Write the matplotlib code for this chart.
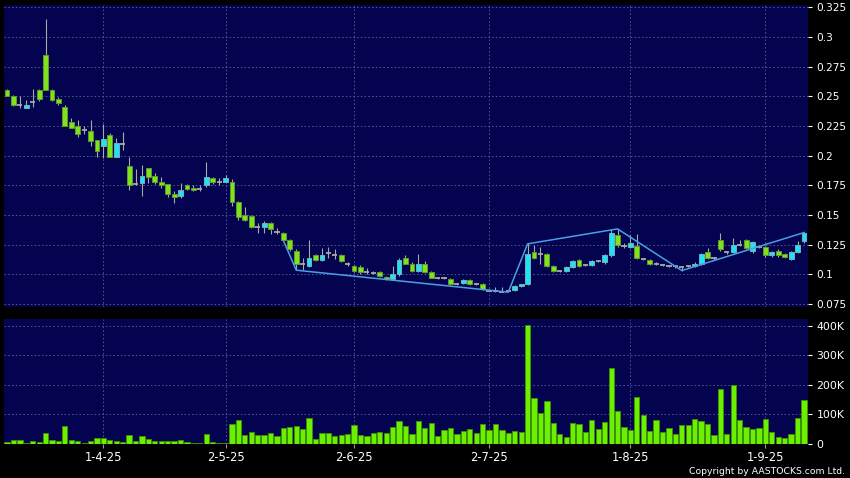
import numpy as np
import pandas as pd
import matplotlib
matplotlib.use('Agg')
import matplotlib.pyplot as plt

# trading days shown (HK calendar, Mar 11 - Sep 9 2025)
hk_holidays = ['2025-04-04', '2025-04-18', '2025-04-21', '2025-05-01',
               '2025-05-05', '2025-07-01']

opens = [0.255, 0.250, 0.243, 0.240, 0.245, 0.255, 0.285, 0.255, 0.248, 0.241,
         0.228, 0.225, 0.222, 0.221, 0.213, 0.208, 0.217, 0.199, 0.210, 0.191,
         0.176, 0.177, 0.190, 0.183, 0.178, 0.176, 0.168, 0.166, 0.175, 0.173,
         0.172, 0.175, 0.181, 0.178, 0.178, 0.178, 0.161, 0.150, 0.149, 0.140,
         0.140, 0.143, 0.136, 0.135, 0.129, 0.120, 0.109, 0.107, 0.116, 0.112,
         0.118, 0.116, 0.116, 0.109, 0.107, 0.106, 0.102, 0.101, 0.102, 0.098,
         0.096, 0.100, 0.114, 0.109, 0.103, 0.109, 0.102, 0.097, 0.097, 0.096,
         0.092, 0.093, 0.095, 0.092, 0.092, 0.086, 0.086, 0.085, 0.086, 0.087,
         0.090, 0.092, 0.119, 0.117, 0.117, 0.107, 0.103, 0.103, 0.106, 0.112,
         0.108, 0.108, 0.111, 0.110, 0.116, 0.133, 0.124, 0.123, 0.124, 0.113,
         0.112, 0.109, 0.108, 0.107, 0.107, 0.106, 0.107, 0.107, 0.109, 0.119,
         0.114, 0.129, 0.119, 0.119, 0.125, 0.129, 0.120, 0.123, 0.123, 0.116,
         0.120, 0.117, 0.113, 0.119, 0.128]
highs = [0.256, 0.251, 0.250, 0.247, 0.256, 0.256, 0.315, 0.256, 0.249, 0.243,
         0.232, 0.230, 0.225, 0.230, 0.213, 0.227, 0.219, 0.215, 0.220, 0.199,
         0.189, 0.192, 0.190, 0.185, 0.182, 0.176, 0.170, 0.177, 0.176, 0.175,
         0.175, 0.195, 0.182, 0.181, 0.184, 0.180, 0.162, 0.157, 0.150, 0.143,
         0.145, 0.144, 0.139, 0.136, 0.130, 0.121, 0.114, 0.129, 0.117, 0.122,
         0.123, 0.121, 0.117, 0.110, 0.108, 0.108, 0.105, 0.103, 0.103, 0.099,
         0.107, 0.114, 0.116, 0.110, 0.117, 0.111, 0.103, 0.098, 0.098, 0.097,
         0.093, 0.096, 0.096, 0.093, 0.093, 0.088, 0.089, 0.089, 0.087, 0.091,
         0.092, 0.126, 0.125, 0.123, 0.118, 0.108, 0.104, 0.107, 0.112, 0.113,
         0.109, 0.112, 0.112, 0.117, 0.138, 0.138, 0.126, 0.133, 0.134, 0.114,
         0.113, 0.110, 0.109, 0.108, 0.108, 0.107, 0.108, 0.110, 0.118, 0.122,
         0.115, 0.135, 0.120, 0.131, 0.129, 0.130, 0.128, 0.125, 0.124, 0.120,
         0.121, 0.118, 0.120, 0.128, 0.136]
lows = [0.250, 0.242, 0.240, 0.240, 0.241, 0.246, 0.255, 0.246, 0.243, 0.225,
        0.223, 0.216, 0.218, 0.208, 0.199, 0.198, 0.199, 0.199, 0.205, 0.171,
        0.175, 0.166, 0.177, 0.176, 0.173, 0.165, 0.160, 0.164, 0.171, 0.170,
        0.170, 0.174, 0.176, 0.175, 0.178, 0.158, 0.146, 0.145, 0.139, 0.135,
        0.135, 0.134, 0.134, 0.128, 0.120, 0.104, 0.104, 0.106, 0.111, 0.111,
        0.114, 0.113, 0.110, 0.107, 0.102, 0.100, 0.100, 0.100, 0.098, 0.095,
        0.095, 0.099, 0.109, 0.102, 0.102, 0.101, 0.097, 0.096, 0.096, 0.091,
        0.091, 0.092, 0.091, 0.091, 0.087, 0.086, 0.085, 0.085, 0.085, 0.086,
        0.089, 0.091, 0.113, 0.109, 0.106, 0.102, 0.102, 0.102, 0.105, 0.106,
        0.107, 0.107, 0.110, 0.109, 0.115, 0.123, 0.122, 0.122, 0.113, 0.112,
        0.108, 0.108, 0.107, 0.106, 0.105, 0.103, 0.106, 0.106, 0.108, 0.113,
        0.112, 0.120, 0.117, 0.118, 0.124, 0.121, 0.118, 0.122, 0.115, 0.115,
        0.115, 0.114, 0.112, 0.118, 0.126]
closes = [0.250, 0.243, 0.243, 0.243, 0.245, 0.248, 0.255, 0.247, 0.244, 0.225,
          0.223, 0.218, 0.222, 0.212, 0.204, 0.214, 0.199, 0.211, 0.210, 0.175,
          0.176, 0.183, 0.182, 0.178, 0.175, 0.168, 0.165, 0.171, 0.172, 0.171,
          0.172, 0.182, 0.178, 0.178, 0.181, 0.161, 0.148, 0.146, 0.140, 0.140,
          0.143, 0.138, 0.136, 0.129, 0.121, 0.109, 0.109, 0.114, 0.112, 0.116,
          0.118, 0.116, 0.111, 0.109, 0.103, 0.102, 0.102, 0.101, 0.099, 0.096,
          0.100, 0.112, 0.109, 0.103, 0.109, 0.102, 0.097, 0.097, 0.097, 0.092,
          0.092, 0.095, 0.092, 0.092, 0.088, 0.086, 0.086, 0.085, 0.086, 0.090,
          0.092, 0.117, 0.114, 0.117, 0.107, 0.103, 0.103, 0.106, 0.111, 0.107,
          0.108, 0.111, 0.111, 0.116, 0.135, 0.125, 0.124, 0.126, 0.114, 0.113,
          0.109, 0.109, 0.108, 0.107, 0.107, 0.106, 0.107, 0.109, 0.117, 0.114,
          0.114, 0.121, 0.119, 0.125, 0.125, 0.122, 0.127, 0.123, 0.116, 0.119,
          0.116, 0.115, 0.119, 0.125, 0.135]
# volume in thousands of shares
volume_k = [6, 11, 11, 3, 8, 6, 35, 12, 8, 61, 12, 8, 3, 10, 19, 19, 11, 8, 6, 28,
            9, 25, 15, 8, 9, 9, 8, 11, 7, 4, 4, 33, 5, 3, 3, 66, 82, 28, 40, 31,
            31, 35, 27, 53, 57, 61, 49, 87, 16, 36, 36, 25, 28, 33, 62, 28, 26, 38, 41, 37,
            57, 78, 60, 34, 77, 52, 69, 27, 46, 52, 33, 44, 50, 38, 66, 45, 67, 46, 35, 44,
            40, 402, 154, 103, 144, 72, 33, 24, 69, 66, 40, 79, 50, 75, 257, 110, 58, 45, 160, 97,
            44, 79, 41, 55, 32, 62, 62, 83, 78, 66, 29, 187, 34, 198, 82, 58, 51, 53, 85, 40,
            23, 19, 33, 87, 148]

# zigzag pivots
zz_dates = ['2025-05-16', '2025-05-20', '2025-07-07', '2025-07-10',
            '2025-07-30', '2025-08-13', '2025-09-09']
zz_prices = [0.1285, 0.1035, 0.0850, 0.1257, 0.1383, 0.1032, 0.1352]

price_ticks = [0.075, 0.1, 0.125, 0.15, 0.175, 0.2, 0.225, 0.25, 0.275, 0.3, 0.325]
vol_ticks = [0, 100000, 200000, 300000, 400000]
vol_labels = ['0', '100K', '200K', '300K', '400K']

dates = pd.bdate_range('2025-03-11', '2025-09-09')
dates = dates[~dates.isin(pd.to_datetime(hk_holidays))]
x = np.arange(len(dates))
o, h, l, c = (np.array(v) for v in (opens, highs, lows, closes))
vol = np.array(volume_k) * 1000

tick_idx = [i for i in range(1, len(dates)) if dates[i].month != dates[i - 1].month]
tick_labels = ['%d-%d-%s' % (dates[i].day, dates[i].month, dates[i].strftime('%y'))
               for i in tick_idx]
zz_idx = dates.get_indexer(pd.to_datetime(zz_dates))

NAVY = '#03034f'
GREEN = '#7ee21c'
CYAN = '#1fe3f0'
GREY = '#a8a8a8'
GRID = dict(color='#5c5c96', linestyle=(0, (2, 2.5)), linewidth=0.6)

fig = plt.figure(figsize=(8.5, 4.78), dpi=100, facecolor='black')
ax = fig.add_axes([4 / 850, 1 - 307 / 478, 804 / 850, 302 / 478], facecolor=NAVY)
ax2 = fig.add_axes([4 / 850, 1 - 444 / 478, 804 / 850, 125 / 478], facecolor=NAVY)

# candles
up = c > o
dn = c < o
eq = c == o
ax.vlines(x, l, h, color=GREY, linewidth=0.8, zorder=2)
ax.bar(x[up], (c - o)[up], bottom=o[up], width=0.75, color=CYAN,
       edgecolor='#6fb0bc', linewidth=0.7, zorder=3)
ax.bar(x[dn], (o - c)[dn], bottom=c[dn], width=0.75, color=GREEN,
       edgecolor='#5f9a2a', linewidth=0.7, zorder=3)
ax.hlines(o[eq], x[eq] - 0.4, x[eq] + 0.4, color=GREY, linewidth=1.3, zorder=3)

ax.plot(zz_idx, zz_prices, color='#4a9ee6', linewidth=1.1, zorder=4)

# volume
ax2.bar(x, vol, width=0.82, color='#6af000', edgecolor='#3f9400',
        linewidth=0.6, zorder=3)

for a in (ax, ax2):
    a.set_xlim(-0.47, len(dates) - 0.37)
    a.set_xticks(tick_idx)
    a.grid(True, **GRID)
    a.set_axisbelow(True)
    a.yaxis.tick_right()
    a.tick_params(axis='y', colors='white', length=3, width=0.8, pad=3)
    for s in a.spines.values():
        s.set_visible(False)

ax.set_ylim(0.0725, 0.3269)
ax.set_yticks(price_ticks)
ax.set_yticklabels(['%g' % t for t in price_ticks], fontsize=7.6)
ax.tick_params(axis='x', length=0, labelbottom=False)

ax2.set_ylim(-1000, 424000)
ax2.set_yticks(vol_ticks)
ax2.set_yticklabels(vol_labels, fontsize=7.8)
ax2.set_xticklabels(tick_labels, fontsize=8.3, color='white')
ax2.tick_params(axis='x', length=3, width=0.8, color='#9a9a9a', pad=2)

fig.text(845 / 850, 1 - 471 / 478, 'Copyright by AASTOCKS.com Ltd.',
         ha='right', va='center', color='white', fontsize=6.7)

fig.savefig('out.png', dpi=100, facecolor='black')
